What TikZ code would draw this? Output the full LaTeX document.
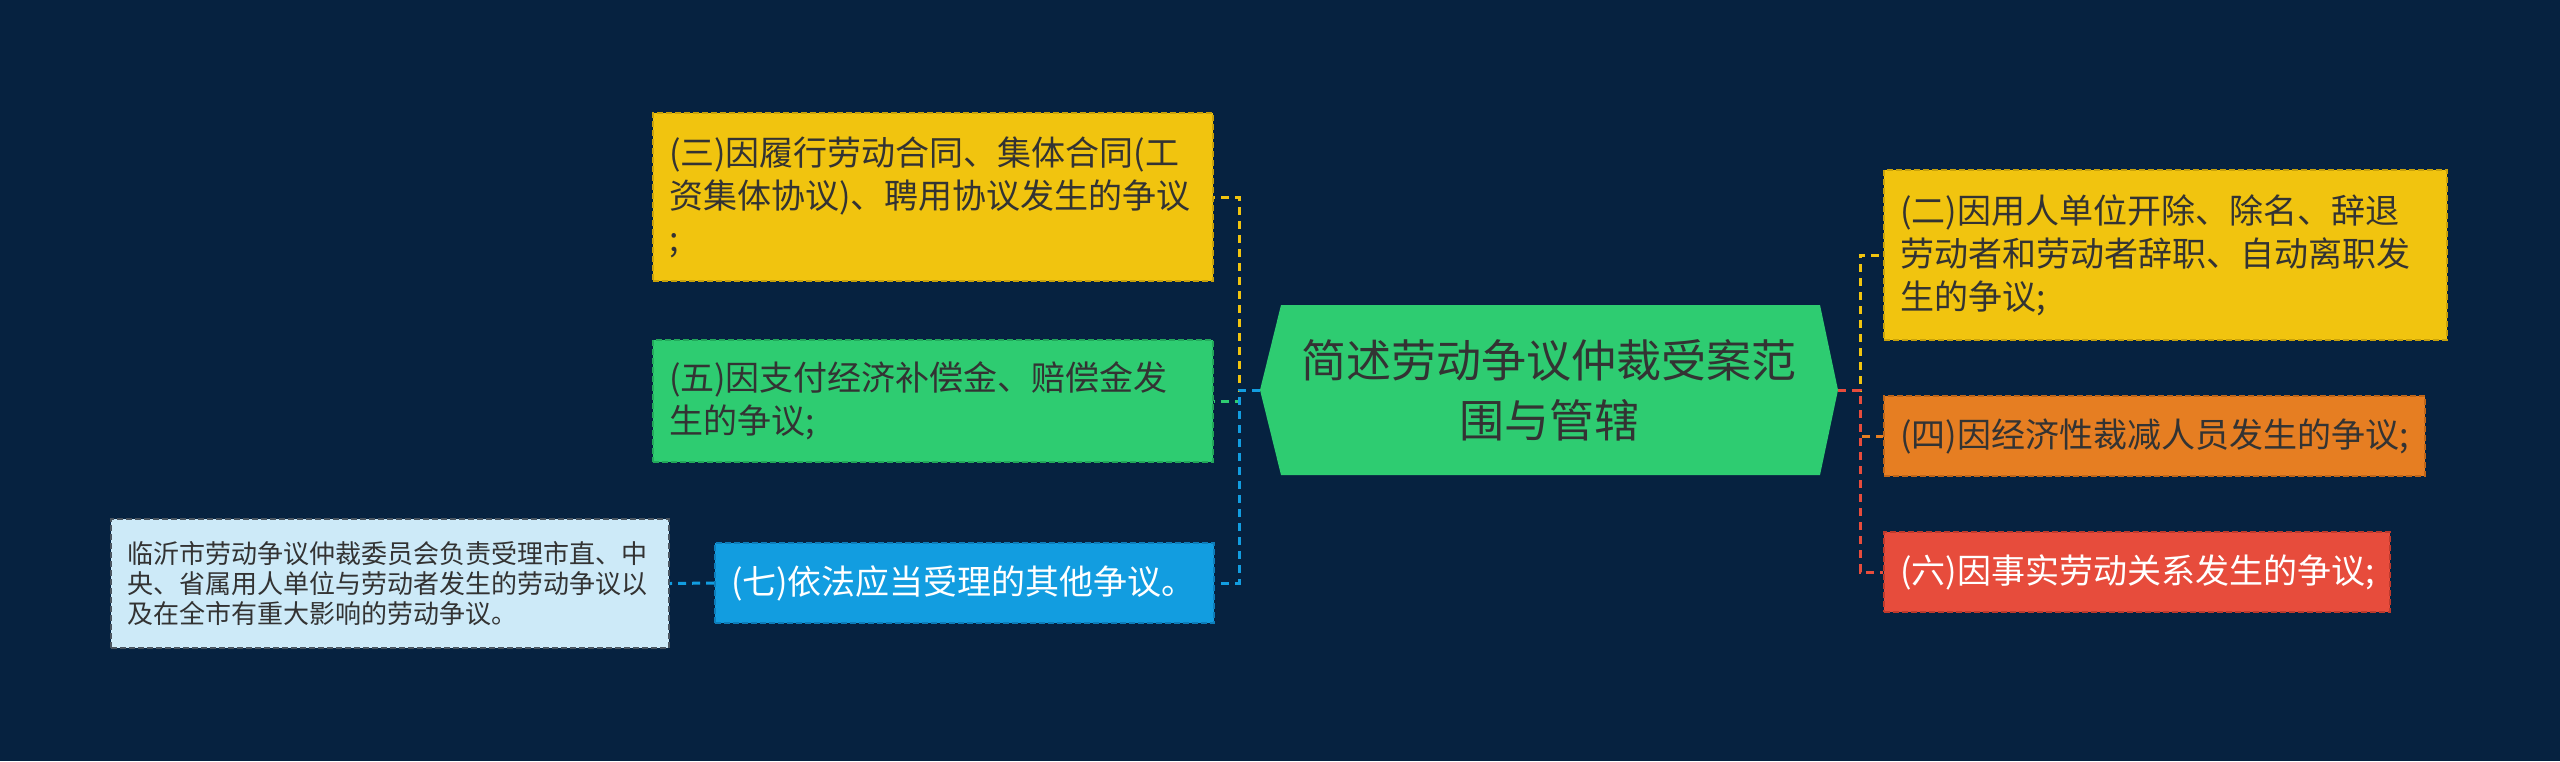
\documentclass[tikz,border=0pt]{standalone}
\usepackage{fontspec}
\newfontfamily\cjk{Noto Sans CJK SC}
\definecolor{bg}{HTML}{062240}
\definecolor{cyellow}{HTML}{F1C40F}
\definecolor{byellow}{HTML}{C9A20A}
\definecolor{cgreen}{HTML}{2ECC71}
\definecolor{bgreen}{HTML}{22A85A}
\definecolor{corange}{HTML}{E67E22}
\definecolor{borange}{HTML}{BF6518}
\definecolor{cred}{HTML}{E74C3C}
\definecolor{bred}{HTML}{BE3A2C}
\definecolor{cblue}{HTML}{129DE0}
\definecolor{bblue}{HTML}{0D7DBA}
\definecolor{cnote}{HTML}{CDEAF8}
\definecolor{bnote}{HTML}{4A5560}
\definecolor{tdark}{HTML}{333333}
\begin{document}
\begin{tikzpicture}[x=0.5pt,y=-0.5pt,
  box/.style={rectangle, inner xsep=8pt, inner ysep=0pt, align=left,
    line width=0.9pt, dash pattern=on 3pt off 1.5pt,
    font=\cjk\fontsize{17}{21.5}\selectfont},
  notebox/.style={box, fill=cnote, draw=bnote, text=tdark,
    font=\cjk\fontsize{13}{15}\selectfont},
  hexbox/.style={rectangle, inner sep=0pt, align=center, fill=bg,
    minimum width=289pt, minimum height=85pt, text=tdark,
    font=\cjk\fontsize{22.5}{30}\selectfont,
    path picture={\fill[cgreen] (path picture bounding box.west)
      -- ([xshift=10.5pt]path picture bounding box.north west)
      -- ([xshift=-9pt]path picture bounding box.north east)
      -- (path picture bounding box.east)
      -- ([xshift=-9pt]path picture bounding box.south east)
      -- ([xshift=10.5pt]path picture bounding box.south west) -- cycle;}},
  conn/.style={line width=1.5pt, dash pattern=on 4pt off 3pt}
]
\useasboundingbox (0,0) rectangle (2560,761);
\fill[bg] (0,0) rectangle (2560,761);

\node[hexbox] (hex) at (1549,390) {简述劳动争议仲裁受案范\\围与管辖};

\node[box, fill=cyellow, draw=byellow, text=tdark, text width=264pt, minimum height=84pt] (b3) at (933,197)
  {(三)因履行劳动合同、集体合同(工\\资集体协议)、聘用协议发生的争议\\;};
\node[box, fill=cgreen, draw=bgreen, text=tdark, text width=264pt, minimum height=61pt] (b5) at (933,401)
  {(五)因支付经济补偿金、赔偿金发\\生的争议;};
\node[box, fill=cblue, draw=bblue, text=white, text width=233.5pt, minimum height=40pt] (b7) at (964.5,583)
  {(七)依法应当受理的其他争议。};
\node[notebox, text width=263pt, minimum height=64.5pt] (note) at (390,583.5)
  {临沂市劳动争议仲裁委员会负责受理市直、中\\央、省属用人单位与劳动者发生的劳动争议以\\及在全市有重大影响的劳动争议。};

\node[box, fill=cyellow, draw=byellow, text=tdark, text width=265.5pt, minimum height=85pt] (b2) at (2165.5,255)
  {(二)因用人单位开除、除名、辞退\\劳动者和劳动者辞职、自动离职发\\生的争议;};
\node[box, fill=corange, draw=borange, text=tdark, text width=254.5pt, minimum height=40pt] (b4) at (2154.5,436)
  {(四)因经济性裁减人员发生的争议;};
\node[box, fill=cred, draw=bred, text=white, text width=237pt, minimum height=40pt] (b6) at (2137,572)
  {(六)因事实劳动关系发生的争议;};

\coordinate (lbus) at (1239,390);
\coordinate (rbus) at (1860,390);

\draw[conn, cyellow] (hex.west) -- (lbus) |- (b3.east);
\draw[conn, cgreen] (hex.west) -- (lbus) |- (b5.east);
\draw[conn, cblue] (hex.west) -- (lbus) |- (b7.east);
\draw[conn, cblue] (b7.west) -- (note.east);

\draw[conn, cyellow] (hex.east) -- (rbus) |- (b2.west);
\draw[conn, corange] (hex.east) -- (rbus) |- (b4.west);
\draw[conn, cred] (hex.east) -- (rbus) |- (b6.west);
\end{tikzpicture}
\end{document}
